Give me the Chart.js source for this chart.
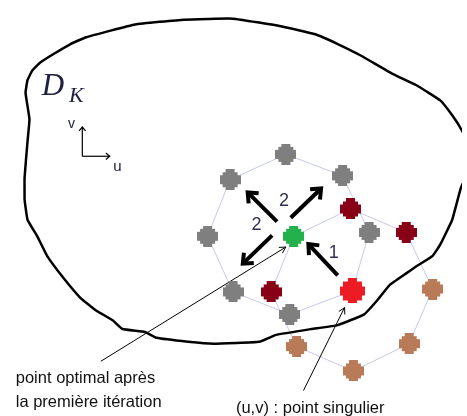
<!DOCTYPE html>
<html>
<head>
<meta charset="utf-8">
<script src="https://cdn.jsdelivr.net/npm/chart.js@4/dist/chart.umd.min.js"></script>
<style>
  body { margin: 0; background: #fff; }
</style>
</head>
<body>
<canvas id="meshChart" width="467" height="416"></canvas>
<script>
// domain boundary (u, v in picture units, v grows downwards)
const boundaryU = [20, 20, 23, 25, 21, 23, 28, 36, 50, 67, 83, 133, 183, 233, 283, 317, 340, 364, 395, 420, 445, 457, 466, 480, 466, 457, 445, 437, 420, 410, 393, 380, 367, 340, 313, 277, 260, 213, 187, 155, 143, 120, 110, 93, 77, 60, 43, 33, 23, 20];
const boundaryV = [200, 177, 140, 117, 90, 77, 67, 59, 50, 40, 33, 20, 15, 14, 22, 30, 40, 52, 70, 82, 98, 113, 127, 155, 187, 220, 245, 257, 268, 275, 287, 303, 317, 328, 332, 338, 345, 347, 345, 341, 335, 332, 323, 313, 300, 280, 257, 237, 220, 200];

// mesh nodes
const grayU = [287, 345, 372, 291, 233, 207, 230];
const grayV = [153, 175, 233, 317, 294, 237, 179];
const darkRedU = [353, 410, 272];
const darkRedV = [209, 233, 294];
const brownU = [437, 413, 356, 298];
const brownV = [291, 347, 375, 350];
const redU = [355];
const redV = [293];
const greenU = [295];
const greenV = [237];

// stencils: octagon around the optimal point, octagon around the singular point
const stencil1U = [287, 345, 372, 355, 291, 233, 207, 230, 287];
const stencil1V = [153, 175, 233, 293, 317, 294, 237, 179, 153];
const stencil2U = [295, 353, 410, 437, 413, 356, 298, 272, 295];
const stencil2V = [237, 209, 233, 291, 347, 375, 350, 294, 237];

// search directions (from, to)
const moves = [
    [278, 222, 248, 192],
    [292, 218, 323, 188],
    [273, 236, 243, 265],
    [340, 277, 310, 245]
];
const moveLabels = ['2', '2', '1'];
const pointerLines = [
    [98, 365, 287, 248],
    [305, 395, 347, 310]
];
const axisLines = [
    [79, 155, 79, 125],
    [79, 155, 107, 155]
];

function toPoints(us, vs) {
    return us.map((u, i) => ({ x: u, y: vs[i] }));
}

function blob(size, color) {
    const c = document.createElement('canvas');
    c.width = size; c.height = size;
    const g = c.getContext('2d');
    g.fillStyle = color;
    const a = Math.round(size * 0.3), b = Math.round(size * 0.12);
    g.fillRect(a, 0, size - 2 * a, size);
    g.fillRect(0, a, size, size - 2 * a);
    g.fillRect(b, b, size - 2 * b, size - 2 * b);
    return c;
}

function markerSet(us, vs, size, color) {
    return {
        data: toPoints(us, vs),
        showLine: false,
        pointStyle: blob(size, color),
        order: 0
    };
}

function segmentSet(seg, width, head) {
    return {
        data: [{ x: seg[0], y: seg[1] }, { x: seg[2], y: seg[3] }],
        showLine: true,
        borderColor: '#000',
        borderWidth: width,
        pointRadius: 0,
        arrowHead: head,
        order: 1
    };
}

const datasets = [
    markerSet(grayU, grayV, 21, '#7f7f7f'),
    markerSet(darkRedU, darkRedV, 21, '#880015'),
    markerSet(brownU, brownV, 21, '#b97a57'),
    markerSet(redU, redV, 25, '#ed1c24'),
    markerSet(greenU, greenV, 21, '#22b14c'),
    { data: toPoints(stencil1U, stencil1V), showLine: true, borderColor: '#c8c8ee', borderWidth: 1, pointRadius: 0, order: 3 },
    { data: toPoints(stencil2U, stencil2V), showLine: true, borderColor: '#c8c8ee', borderWidth: 1, pointRadius: 0, order: 3 },
    { data: toPoints(boundaryU, boundaryV), showLine: true, borderColor: '#000', borderWidth: 2.5, pointRadius: 0, tension: 0.1, order: 2 }
];
moves.forEach(m => datasets.push(segmentSet(m, 4, { len: 11, spread: 0.7 })));
pointerLines.forEach(m => datasets.push(segmentSet(m, 1, { len: 7, spread: 0.5 })));
axisLines.forEach(m => datasets.push(segmentSet(m, 1.2, { len: 5, spread: 0.7 })));

const labels = [
    { text: moveLabels[0], u: 285, v: 201, font: '18px "Liberation Sans"', color: '#303050' },
    { text: moveLabels[1], u: 257, v: 225, font: '18px "Liberation Sans"', color: '#303050' },
    { text: moveLabels[2], u: 336, v: 254, font: '18px "Liberation Sans"', color: '#303050' },
    { text: 'v', u: 68, v: 122, font: '14px "Liberation Sans"', color: '#202040' },
    { text: 'u', u: 115, v: 166, font: '15px "Liberation Sans"', color: '#202040' },
    { text: 'D', u: 49, v: 84, font: 'italic 31px "Liberation Serif"', color: '#202040' },
    { text: 'K', u: 73, v: 93, font: 'italic 22px "Liberation Serif"', color: '#202040' },
    { text: 'point optimal après', u: 11, v: 383, font: '16.5px "Liberation Sans"', color: '#111', align: 'left' },
    { text: 'la première itération', u: 11, v: 407, font: '16.5px "Liberation Sans"', color: '#111', align: 'left' },
    { text: '(u,v) : point singulier', u: 236, v: 413, font: '16.5px "Liberation Sans"', color: '#111', align: 'left' }
];

const decorations = {
    id: 'decorations',
    afterDatasetsDraw(chart) {
        const { ctx, scales: { x, y } } = chart;
        ctx.save();
        // arrow heads at the end of each segment
        chart.data.datasets.forEach(ds => {
            if (!ds.arrowHead) return;
            const p0 = ds.data[0], p1 = ds.data[1];
            const x0 = x.getPixelForValue(p0.x), y0 = y.getPixelForValue(p0.y);
            const x1 = x.getPixelForValue(p1.x), y1 = y.getPixelForValue(p1.y);
            const ang = Math.atan2(y1 - y0, x1 - x0);
            const { len, spread } = ds.arrowHead;
            ctx.strokeStyle = '#000';
            ctx.lineWidth = ds.borderWidth;
            ctx.lineJoin = 'miter';
            ctx.beginPath();
            ctx.moveTo(x1 - len * Math.cos(ang - spread), y1 - len * Math.sin(ang - spread));
            ctx.lineTo(x1, y1);
            ctx.lineTo(x1 - len * Math.cos(ang + spread), y1 - len * Math.sin(ang + spread));
            ctx.stroke();
        });
        // text
        labels.forEach(l => {
            ctx.font = l.font;
            ctx.fillStyle = l.color;
            ctx.textAlign = l.align || 'center';
            ctx.textBaseline = 'middle';
            ctx.fillText(l.text, x.getPixelForValue(l.u), y.getPixelForValue(l.v));
        });
        ctx.restore();
    }
};

const ctx = document.getElementById('meshChart').getContext('2d');
const meshChart = new Chart(ctx, {
    type: 'scatter',
    data: { datasets: datasets },
    options: {
        responsive: false,
        animation: false,
        layout: { padding: 0 },
        scales: {
            x: { type: 'linear', min: 0, max: 467, display: false },
            y: { type: 'linear', min: 0, max: 416, reverse: true, display: false }
        },
        plugins: {
            legend: { display: false },
            tooltip: { enabled: false }
        }
    },
    plugins: [decorations]
});
</script>
</body>
</html>
